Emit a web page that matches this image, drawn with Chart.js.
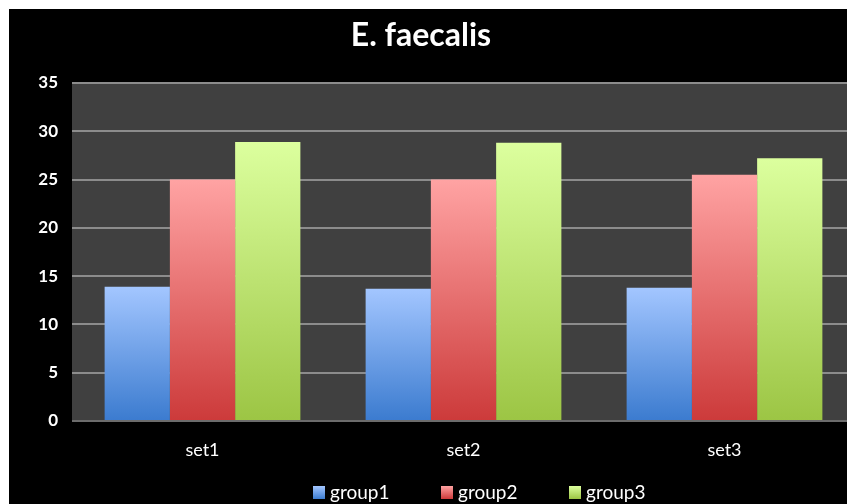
<!DOCTYPE html>
<html>
<head>
<meta charset="utf-8">
<script src="https://cdn.jsdelivr.net/npm/chart.js@4"></script>
<style>
  body{margin:0;background:#fff;}
  #box{position:absolute;left:9px;top:9px;width:838px;height:495px;overflow:hidden;background:#000;}
  canvas{display:block;}
</style>
</head>
<body>
<div id="box"><canvas id="c" width="850" height="495"></canvas></div>
<script>
let categories=["set1","set2","set3"];
let seriesNames=["group1","group2","group3"];
let group1=[13.9,13.7,13.8];
let group2=[25.0,25.0,25.5];
let group3=[28.9,28.8,27.2];
let yTicks=[0,5,10,15,20,25,30,35];

// top colour, bottom colour for each series
let shades=[["#a3c6ff","#3b7bcf"],["#ffa3a3","#cc3a3a"],["#dcff9e","#9cc544"]];

function barFill(i){
  return function(c){
    let chart=c.chart;
    if(!chart.chartArea || !c.parsed) return shades[i][0];
    let y=chart.scales.y;
    let top=y.getPixelForValue(c.parsed.y);
    let bot=y.getPixelForValue(0);
    let g=chart.ctx.createLinearGradient(0,top,0,bot);
    g.addColorStop(0,shades[i][0]);
    g.addColorStop(1,shades[i][1]);
    return g;
  };
}

// plot background, title and legend
let decor={
  id:"decor",
  beforeDraw(chart){
    let a=chart.chartArea, ctx=chart.ctx;
    ctx.save();
    ctx.fillStyle="#404040";
    ctx.fillRect(a.left,a.top,a.right-a.left,a.bottom-a.top);
    ctx.restore();
  },
  afterDraw(chart){
    let ctx=chart.ctx;
    ctx.save();
    ctx.fillStyle="#fff";
    ctx.font="bold 32px Lato";
    ctx.textAlign="center";
    ctx.textBaseline="alphabetic";
    ctx.fillText("E. faecalis",412,37);

    ctx.font="19px Lato";
    ctx.textAlign="left";
    chart.data.datasets.forEach((ds,i)=>{
      let x=304+i*128;
      let g=ctx.createLinearGradient(0,477,0,490);
      g.addColorStop(0,shades[i][0]);
      g.addColorStop(1,shades[i][1]);
      ctx.fillStyle=g;
      ctx.fillRect(x,477,12,13);
      ctx.fillStyle="#fff";
      ctx.fillText(ds.label,x+17,490);
    });
    ctx.restore();
  }
};

let ctx=document.getElementById("c").getContext("2d");
new Chart(ctx,{
  type:"bar",
  data:{
    labels:categories,
    datasets:[
      {label:seriesNames[0],data:group1,backgroundColor:barFill(0)},
      {label:seriesNames[1],data:group2,backgroundColor:barFill(1)},
      {label:seriesNames[2],data:group3,backgroundColor:barFill(2)}
    ]
  },
  options:{
    responsive:false,
    animation:false,
    layout:{padding:{top:74,right:4,left:0,bottom:0}},
    datasets:{bar:{categoryPercentage:0.75,barPercentage:1.0,borderWidth:0}},
    plugins:{legend:{display:false},title:{display:false},tooltip:{enabled:false}},
    scales:{
      x:{
        grid:{display:false},
        border:{display:false},
        ticks:{color:"#fff",font:{family:"Lato",size:18},padding:10},
        afterFit(s){s.height=83;}
      },
      y:{
        min:0,max:35,
        afterBuildTicks(s){s.ticks=yTicks.map(v=>({value:v}));},
        grid:{color:c=>c.tick && c.tick.value===0?"#6c6c6c":"#8c8c8c",lineWidth:2,drawTicks:false},
        border:{display:false},
        ticks:{color:"#fff",font:{family:"Lato",size:17,weight:"bold"},padding:14},
        afterFit(s){s.width=63;}
      }
    }
  },
  plugins:[decor]
});
</script>
</body>
</html>
